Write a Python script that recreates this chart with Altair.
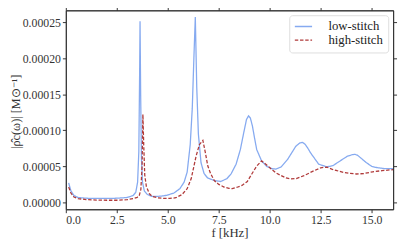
import altair as alt
import pandas as pd

low_f = [0.14, 0.25, 0.4, 0.6, 1.0, 1.5, 2.0, 2.5, 3.0, 3.3, 3.43, 3.52, 3.58, 3.62, 3.64, 3.67, 3.71, 3.76,
         3.85, 4.0, 4.2, 4.4, 4.7, 4.95, 5.3, 5.59, 5.8, 5.95, 6.1, 6.2, 6.28, 6.35, 6.42, 6.5, 6.63, 6.78,
         6.95, 7.28, 7.6, 7.9, 8.1, 8.35, 8.56, 8.72, 8.86, 8.96, 9.05, 9.15, 9.25, 9.36, 9.6, 9.85, 10.1,
         10.3, 10.55, 10.88, 11.28, 11.48, 11.6, 11.72, 11.85, 12.0, 12.4, 12.8, 13.1, 13.45, 13.8, 14.05,
         14.17, 14.3, 14.45, 14.73, 15.0, 15.21, 15.6, 16.05]
low_v = [2.7e-05, 1.6e-05, 9.5e-06, 6.8e-06, 5.8e-06, 5.5e-06, 5.5e-06, 5.8e-06, 6.8e-06, 9.5e-06, 1.4e-05,
         2.8e-05, 7.0e-05, 1.8e-04, 2.51e-04, 1.5e-04, 6.0e-05, 2.8e-05, 1.6e-05, 1.1e-05, 8.5e-06, 8.2e-06,
         8.8e-06, 9.9e-06, 1.3e-05, 1.9e-05, 2.8e-05, 4.2e-05, 8.0e-05, 1.3e-04, 2.0e-04, 2.57e-04, 1.6e-04,
         9.5e-05, 5.5e-05, 4.0e-05, 3.4e-05, 3.03e-05, 2.9e-05, 3.3e-05, 3.94e-05, 5.3e-05, 7.34e-05,
         9.6e-05, 1.15e-04, 1.2e-04, 1.17e-04, 1.06e-04, 9.0e-05, 7.34e-05, 5.75e-05, 5.0e-05, 4.68e-05,
         4.62e-05, 4.9e-05, 5.98e-05, 7.79e-05, 8.25e-05, 8.33e-05, 8.1e-05, 7.6e-05, 6.88e-05, 5.3e-05,
         4.93e-05, 5.1e-05, 5.75e-05, 6.4e-05, 6.62e-05, 6.66e-05, 6.55e-05, 6.2e-05, 5.53e-05, 5.0e-05,
         4.85e-05, 4.7e-05, 4.7e-05]

high_f = [0.14, 0.25, 0.4, 0.6, 1.0, 1.5, 2.0, 2.5, 3.0, 3.3, 3.5, 3.6, 3.68, 3.74, 3.78, 3.82, 3.87, 3.95,
          4.1, 4.23, 4.5, 4.8, 5.1, 5.4, 5.7, 5.95, 6.15, 6.39, 6.55, 6.72, 6.85, 6.96, 7.1, 7.28, 7.5,
          7.76, 8.0, 8.16, 8.4, 8.64, 8.9, 9.12, 9.35, 9.6, 9.85, 10.08, 10.3, 10.56, 10.8, 11.04, 11.3,
          11.68, 12.1, 12.5, 12.8, 13.04, 13.3, 13.61, 13.9, 14.25, 14.6, 15.05, 15.5, 16.05]
high_v = [2.13e-05, 1.3e-05, 7.5e-06, 5.2e-06, 4.0e-06, 3.3e-06, 3.0e-06, 3.0e-06, 3.8e-06, 5.2e-06, 7.0e-06,
          9.5e-06, 1.8e-05, 5.0e-05, 1.22e-04, 8.0e-05, 3.8e-05, 2.2e-05, 1.2e-05, 8.5e-06, 6.5e-06,
          5.5e-06, 5.5e-06, 6.5e-06, 1.1e-05, 1.9e-05, 3.3e-05, 6.43e-05, 8.0e-05, 8.6e-05, 6.8e-05,
          5.07e-05, 4.0e-05, 3.03e-05, 2.5e-05, 2.13e-05, 1.95e-05, 1.9e-05, 2.1e-05, 2.35e-05, 2.9e-05,
          3.94e-05, 5.0e-05, 5.75e-05, 5.2e-05, 4.62e-05, 4.1e-05, 3.71e-05, 3.4e-05, 3.26e-05, 3.3e-05,
          3.71e-05, 4.3e-05, 4.8e-05, 4.9e-05, 4.62e-05, 4.4e-05, 4.17e-05, 4.05e-05, 3.94e-05, 4.0e-05,
          4.25e-05, 4.4e-05, 4.55e-05]

series_names = ["low-stitch", "high-stitch"]
x_ticks = [0.0, 2.5, 5.0, 7.5, 10.0, 12.5, 15.0]
y_ticks = [0.0, 0.00005, 0.0001, 0.00015, 0.0002, 0.00025]

df = pd.concat([
    pd.DataFrame({"f": low_f, "v": low_v, "series": series_names[0], "order": range(len(low_f))}),
    pd.DataFrame({"f": high_f, "v": high_v, "series": series_names[1], "order": range(len(high_f))}),
])

FONT = "Liberation Serif"
xdom = [0, 16.05]
ydom = [-0.0000095, 0.0002663]

xscale = alt.Scale(domain=xdom, nice=False, zero=False)
yscale = alt.Scale(domain=ydom, nice=False, zero=False)

lines = alt.Chart(df).mark_line(strokeWidth=1.3, clip=True).encode(
    x=alt.X("f:Q", scale=xscale,
            axis=alt.Axis(values=x_ticks, format=".1f", title="f [kHz]", grid=False,
                          tickSize=3.5, labelPadding=2, titlePadding=1)),
    y=alt.Y("v:Q", scale=yscale,
            axis=alt.Axis(values=y_ticks, format=".5f", title="|ρ̂c(ω)| [M⊙⁻¹]", grid=False,
                          tickSize=3.5, labelPadding=2,
                          titleFontSize=12.5, titleY=103, titleX=-44, titleBaseline="bottom",
                          titleAngle=270)),
    order="order:Q",
    color=alt.Color("series:N", scale=alt.Scale(domain=series_names, range=["#86aaf0", "#b03a3a"]),
                    title=None,
                    legend=alt.Legend(orient="top-right", offset=5, symbolType="M-1.6,0H1.6",
                                      symbolSize=121, symbolStrokeWidth=1.3, labelFont=FONT,
                                      labelFontSize=13, labelColor="#222", padding=5,
                                      rowPadding=0, strokeColor="#dddddd", fillColor="white",
                                      cornerRadius=3, labelOffset=19, symbolOffset=3)),
    strokeDash=alt.StrokeDash("series:N",
                              scale=alt.Scale(domain=series_names, range=[[1, 0], [3.5, 1.8]]),
                              title=None, legend=alt.Legend(orient="top-right")),
)

mirror = alt.Chart(df).mark_point(opacity=0).encode(
    x=alt.X("f:Q", scale=xscale,
            axis=alt.Axis(values=x_ticks, orient="top", labels=False, title=None, grid=False, tickSize=3.5)),
    y=alt.Y("v:Q", scale=yscale,
            axis=alt.Axis(values=y_ticks, orient="right", labels=False, title=None, grid=False, tickSize=3.5)),
)

chart = alt.layer(lines, mirror).resolve_axis(x="independent", y="independent").properties(
    width=334, height=203,
    autosize=alt.AutoSizeParams(type="none"),
    padding={"left": 59, "top": 0, "right": 6, "bottom": 30},
).configure_axis(
    labelFont=FONT, titleFont=FONT, labelFontSize=12, titleFontSize=13,
    labelColor="#333", titleColor="#333", domainColor="#333", tickColor="#333",
    titleFontWeight="normal",
).configure_view(stroke="#333")

chart.save("out.html", embed_options={"renderer": "svg", "actions": False})
